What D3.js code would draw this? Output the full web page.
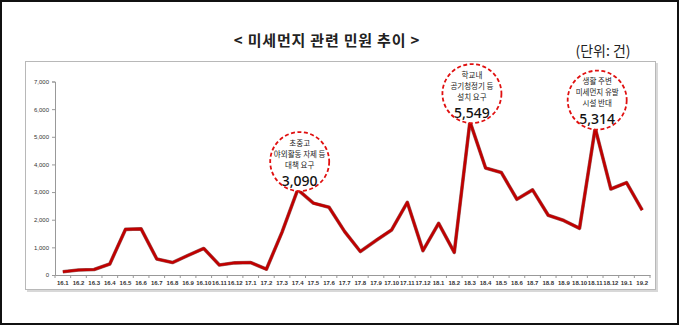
<!DOCTYPE html>
<html><head><meta charset="utf-8">
<script src="https://cdn.jsdelivr.net/npm/d3@7"></script>
<style>body{margin:0;background:#fff}svg{display:block}</style>
</head><body><svg id="c" width="680" height="326"></svg>
<script>
const categories = ["16.1","16.2","16.3","16.4","16.5","16.6","16.7","16.8","16.9","16.10","16.11","16.12",
"17.1","17.2","17.3","17.4","17.5","17.6","17.7","17.8","17.9","17.10","17.11","17.12",
"18.1","18.2","18.3","18.4","18.5","18.6","18.7","18.8","18.9","18.10","18.11","18.12","19.1","19.2"];
const values = [120,180,200,400,1650,1670,580,450,710,960,360,440,
450,210,1550,3090,2600,2450,1570,850,1250,1630,2630,880,
1870,820,5549,3870,3710,2740,3080,2160,1970,1690,5314,3110,3340,2350];
const yTicks = [0,1000,2000,3000,4000,5000,6000,7000];
const title = "< 미세먼지 관련 민원 추이 >";
const unitLabel = "(단위: 건)";
const annotations = [
  {cat:"17.4", lines:["초중고","야외활동 자제 등","대책 요구"], label:"3,090"},
  {cat:"18.3", lines:["학교내","공기청정기 등","설치 요구"], label:"5,549"},
  {cat:"18.11", lines:["생활 주변","미세먼지 유발","시설 반대"], label:"5,314"}
];

const svg = d3.select("#c");
const KR = "'Noto Sans CJK KR','Noto Sans',sans-serif";
// outer frame
svg.append("rect").attr("x",1).attr("y",1).attr("width",677).attr("height",323)
  .attr("fill","#fff").attr("stroke","#111").attr("stroke-width",2);
// inner box with shadow
svg.append("rect").attr("x",27).attr("y",63).attr("width",631).attr("height",229).attr("fill","#d8d8d8");
svg.append("rect").attr("x",25.5).attr("y",61.5).attr("width",630).attr("height",228)
  .attr("fill","#fff").attr("stroke","#b8b8b8").attr("stroke-width",1);

svg.append("text").attr("x",327).attr("y",46).attr("text-anchor","middle").attr("letter-spacing",0.8)
  .attr("font-family",KR).attr("font-weight","bold").attr("font-size",15).attr("fill","#222").text(title);
svg.append("text").attr("x",603).attr("y",56).attr("text-anchor","middle")
  .attr("font-family",KR).attr("font-size",14).attr("fill","#222").text(unitLabel);

const x = d3.scaleBand().domain(categories).range([55,650]);
const y = d3.scaleLinear().domain([0,7000]).range([275,81.5]);

// y axis
const ya = svg.append("g").attr("transform","translate(55,0)")
  .call(d3.axisLeft(y).tickValues(yTicks).tickSize(3).tickPadding(3).tickFormat(d3.format(",")));
ya.select(".domain").attr("stroke","#999");
ya.selectAll(".tick line").attr("stroke","#999");
ya.selectAll("text").attr("font-family","'Liberation Sans',sans-serif").attr("font-size",6).attr("fill","#333");

// x axis
const xa = svg.append("g").attr("transform","translate(0,275)")
  .call(d3.axisBottom(x).tickSize(0).tickPadding(6));
xa.select(".domain").attr("stroke","#999");
xa.selectAll("text").attr("font-family","'Liberation Sans',sans-serif").attr("font-size",6).attr("fill","#333").attr("font-weight","bold");
// boundary ticks
svg.append("g").selectAll("line").data(categories.concat(["_end"])).join("line")
  .attr("x1",(d,i)=> i<categories.length ? x(d) : x.range()[1])
  .attr("x2",(d,i)=> i<categories.length ? x(d) : x.range()[1])
  .attr("y1",275).attr("y2",278).attr("stroke","#999");

// line
const line = d3.line().x((d,i)=>x(categories[i])+x.bandwidth()/2).y(d=>y(d));
svg.append("path").datum(values).attr("d",line).attr("fill","none")
  .attr("stroke","#5a0000").attr("stroke-width",3.6).attr("stroke-linejoin","round").attr("opacity",0.6);
svg.append("path").datum(values).attr("d",line).attr("fill","none")
  .attr("stroke","#c00000").attr("stroke-width",2.6).attr("stroke-linejoin","round");

// annotations
annotations.forEach(a=>{
  const i = categories.indexOf(a.cat);
  const px = x(a.cat)+x.bandwidth()/2+2, py = y(values[i]);
  const cy = py-28;
  const g = svg.append("g");
  g.append("circle").attr("cx",px).attr("cy",cy).attr("r",29.5).attr("fill","#fff")
    .attr("stroke","#e01010").attr("stroke-width",1.8).attr("stroke-dasharray","4,2.5");
  a.lines.forEach((t,k)=>{
    g.append("text").attr("x",px).attr("y",cy-16+k*11).attr("text-anchor","middle")
      .attr("font-family",KR).attr("font-size",7.5).attr("fill","#222").text(t);
  });
  g.append("text").attr("x",px).attr("y",cy+24).attr("text-anchor","middle")
    .attr("font-family","'Noto Sans',sans-serif").attr("font-weight",500).attr("font-size",14).attr("fill","#111").text(a.label);
});
</script></body></html>
